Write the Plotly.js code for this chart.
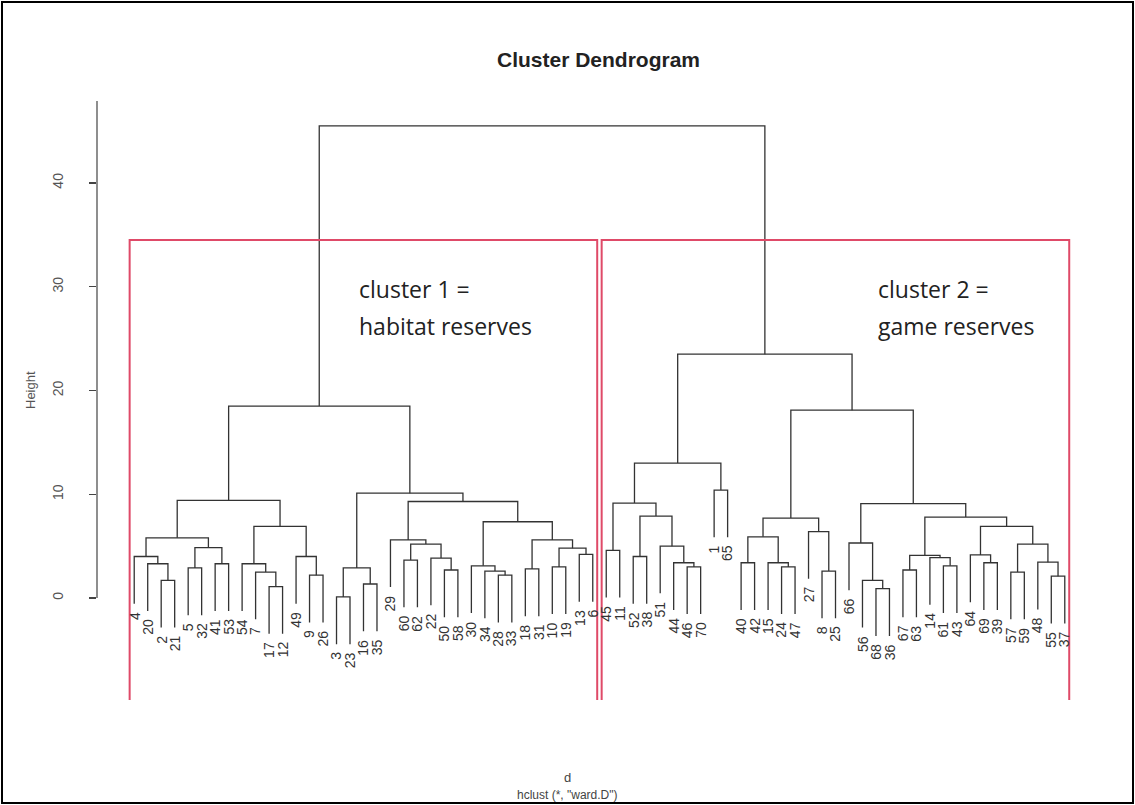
<!DOCTYPE html>
<html><head><meta charset="utf-8">
<script src="https://cdn.plot.ly/plotly-3.0.1.min.js"></script>
<style>html,body{margin:0;padding:0;background:#fff;}#chart{width:1135px;height:805px;}</style>
</head><body><div id="chart"></div>
<script>
// Leaf labels, in dendrogram order (left to right)
const leafLabels = [4,20,2,21,5,32,41,53,54,7,17,12,49,9,26,3,23,16,35,29,60,62,22,50,58,30,34,28,33,18,31,10,19,13,6,
  45,11,52,38,51,44,46,70,1,65,40,42,15,24,47,27,8,25,66,56,68,36,67,63,14,61,43,64,69,39,57,59,48,55,37];
// Merge table (like hclust$merge): negative = leaf position (1-based), positive = earlier merge row (1-based)
const mergeA = [-3,-2,-1,-5,-7,4,3,-11,-10,-9,-14,-13,10,7,-16,-18,15,-21,-24,-23,18,-20,-28,-27,-26,-30,-32,-34,27,26,25,22,17,14,
  -36,-38,-42,-41,-40,36,35,-44,41,-46,-49,-48,44,-52,-51,47,-56,-55,-54,-58,-61,-60,54,-64,-63,-66,-69,-68,60,59,57,53,50,43,34];
const mergeB = [-4,1,2,-6,-8,5,6,-12,8,9,-15,11,12,13,-17,-19,16,-22,-25,19,20,21,-29,23,24,-31,-33,-35,28,29,30,31,32,33,
  -37,-39,-43,37,38,39,40,-45,42,-47,-50,45,46,-53,48,49,-57,51,52,-59,-62,55,56,-65,58,-67,-70,61,62,63,64,65,66,67,68];
const mergeHeight = [1.7,3.3,4.0,2.9,3.3,4.85,5.8,1.1,2.5,3.3,2.2,4.0,6.9,9.4,0.1,1.35,2.9,3.66,2.7,3.85,5.2,5.6,2.2,2.6,3.1,2.8,3.0,4.2,4.8,5.6,7.35,9.3,10.1,18.5,
  4.6,4.0,3.0,3.4,5.0,7.9,9.15,10.4,13.0,3.4,3.0,3.4,5.9,2.6,6.4,7.7,0.9,1.7,5.3,2.7,3.1,3.9,4.1,3.4,4.15,2.5,2.1,3.45,5.2,6.9,7.8,9.1,18.1,23.5,45.5];
const yTicks = [0,10,20,30,40];
const yTickLabels = ['0','10','20','30','40'];
const clusterNotes = [['cluster 1 =','habitat reserves'],['cluster 2 =','game reserves']];

const n = leafLabels.length;
const maxH = Math.max(...mergeHeight);
const hang = 0.1 * maxH;
const nodeX = [], leafBottom = {};
function childX(c){ return c < 0 ? -c : nodeX[c-1]; }
for (let i = 0; i < mergeA.length; i++) {
  nodeX[i] = (childX(mergeA[i]) + childX(mergeB[i])) / 2;
  [mergeA[i], mergeB[i]].forEach(c => { if (c < 0) leafBottom[-c] = mergeHeight[i] - hang; });
}
const lx = [], ly = [];
function childY(c){ return c < 0 ? leafBottom[-c] : mergeHeight[c-1]; }
for (let i = 0; i < mergeA.length; i++) {
  const xa = childX(mergeA[i]), xb = childX(mergeB[i]), h = mergeHeight[i];
  lx.push(xa, xa, xb, xb, null);
  ly.push(childY(mergeA[i]), h, h, childY(mergeB[i]), null);
}
function leavesOf(c){ if (c < 0) return [-c]; return leavesOf(mergeA[c-1]).concat(leavesOf(mergeB[c-1])); }
const root = mergeA.length;
const sizes = [leavesOf(mergeA[root-1]).length, leavesOf(mergeB[root-1]).length];
const sortedH = [...mergeHeight].sort((a,b)=>b-a);
const cutH = (sortedH[0] + sortedH[1]) / 2;

// pixel geometry of the R plot region
const PL = 97, PR = 1102, PT = 101, PB = 700;
const px = v => (v - PL) / (PR - PL);
const py = v => (PB - v) / (PB - PT);
const yMin = -9.83, yMax = 47.9;

const traces = [{
  x: lx, y: ly, type: 'scatter', mode: 'lines',
  line: {color: '#333', width: 1.3}, hoverinfo: 'skip', showlegend: false
}];

const annotations = [];
for (let p = 1; p <= n; p++) {
  annotations.push({x: p, y: leafBottom[p], xref: 'x', yref: 'y', text: String(leafLabels[p-1]),
    showarrow: false, textangle: -90, xanchor: 'center', yanchor: 'top', yshift: -6,
    font: {family: 'Liberation Sans, Arial, sans-serif', size: 14, color: '#333'}});
}
const txtFont = {family: 'Liberation Sans, Arial, sans-serif', color: '#333'};
annotations.push({x: px(598), y: py(59), xref: 'paper', yref: 'paper', text: '<b>Cluster Dendrogram</b>', showarrow: false,
  xanchor: 'center', yanchor: 'middle', font: Object.assign({}, txtFont, {size: 21, color: '#222'})});
annotations.push({x: px(30), y: py(390), xref: 'paper', yref: 'paper', text: 'Height', showarrow: false, textangle: -90,
  xanchor: 'center', yanchor: 'middle', font: Object.assign({}, txtFont, {size: 13, color: '#555'})});
annotations.push({x: px(567), y: py(777), xref: 'paper', yref: 'paper', text: 'd', showarrow: false,
  xanchor: 'center', yanchor: 'middle', font: Object.assign({}, txtFont, {size: 13, color: '#444'})});
annotations.push({x: px(567), y: py(795), xref: 'paper', yref: 'paper', text: 'hclust (*, "ward.D")', showarrow: false,
  xanchor: 'center', yanchor: 'middle', font: Object.assign({}, txtFont, {size: 12, color: '#444'})});
const noteX = [357, 876];
clusterNotes.forEach((lines, i) => {
  annotations.push({x: px(noteX[i]), y: py(289), xref: 'paper', yref: 'paper', text: lines[0], showarrow: false,
    xanchor: 'left', yanchor: 'middle', font: {family: 'Open Sans, sans-serif', size: 23, color: '#222'}});
  annotations.push({x: px(noteX[i]), y: py(326), xref: 'paper', yref: 'paper', text: lines[1], showarrow: false,
    xanchor: 'left', yanchor: 'middle', font: {family: 'Open Sans, sans-serif', size: 23, color: '#222'}});
});

const red = '#DF4A68';
const shapes = [
  {type: 'line', xref: 'paper', yref: 'y', x0: 0, x1: 0, y0: 0, y1: yMax, line: {color: '#444', width: 1.2}},
  {type: 'rect', xref: 'paper', yref: 'paper', x0: px(2), x1: px(1133), y0: py(803), y1: py(2), line: {color: '#000', width: 2}},
  {type: 'rect', xref: 'x', yref: 'y', x0: 0.66, x1: sizes[0] + 0.33, y0: yMin - 3, y1: cutH, line: {color: red, width: 2}},
  {type: 'rect', xref: 'x', yref: 'y', x0: sizes[0] + 0.66, x1: n + 0.33, y0: yMin - 3, y1: cutH, line: {color: red, width: 2}}
];

const layout = {
  width: 1135, height: 805, paper_bgcolor: '#fff', plot_bgcolor: '#fff',
  margin: {l: PL, r: 1135 - PR, t: PT, b: 805 - PB},
  showlegend: false,
  xaxis: {range: [1 - 0.04 * (n - 1), n + 0.04 * (n - 1)], visible: false, fixedrange: true},
  yaxis: {range: [yMin, yMax], showgrid: false, zeroline: false, showline: false,
    tickvals: yTicks, ticktext: yTickLabels, ticks: 'outside', ticklen: 7, tickwidth: 1.2, tickcolor: '#444',
    tickangle: -90, ticklabelstandoff: 20,
    tickfont: {family: 'Liberation Sans, Arial, sans-serif', size: 14, color: '#555'}, fixedrange: true},
  annotations: annotations,
  shapes: shapes
};
Plotly.newPlot('chart', traces, layout, {displayModeBar: false, staticPlot: true});
</script></body></html>
